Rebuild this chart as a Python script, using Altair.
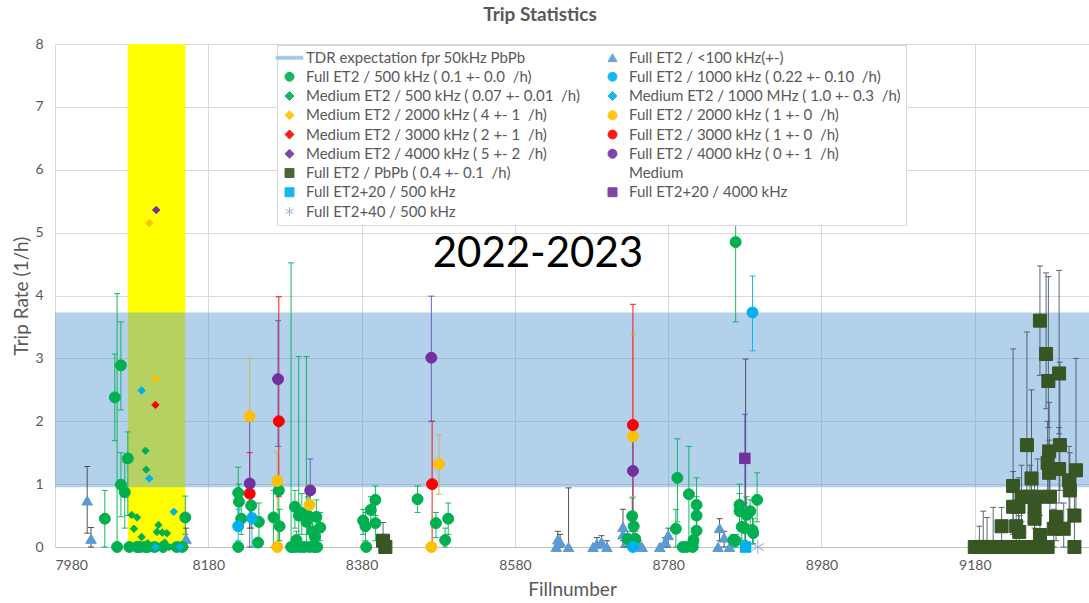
import altair as alt
import pandas as pd

# ---------------- data ----------------
# (fill number, trip rate, error low, error high)
FULL_500 = [
    (8045, 0.45, 0.0, 0.90), (8058, 2.38, 1.69, 3.07), (8061, 0.00, 0.0, 4.03),
    (8066, 2.89, 2.18, 3.58), (8066, 0.99, 0.48, 1.50), (8071, 0.87, 0.30, 1.35),
    (8075, 1.41, 0.50, 1.83), (8077, 0, 0, 0), (8087, 0, 0, 0), (8091, 0, 0, 0),
    (8098, 0, 0, 0), (8101, 0, 0, 0), (8110, 0, 0, 0), (8121, 0, 0, 0),
    (8139, 0, 0, 0), (8146, 0, 0, 0), (8150, 0.47, 0.20, 0.81),
    (8219, 0.86, 0.45, 1.27), (8220, 0.72, 0.30, 1.00), (8223, 0.45, 0.20, 0.75),
    (8219, 0, 0, 0), (8236, 0.66, 0.30, 0.95), (8246, 0.40, 0.10, 0.70),
    (8245, 0.07, 0, 0.10), (8265, 0.47, 0, 0.90), (8272, 0.90, 0, 1.00),
    (8273, 0.33, 0.10, 0.60), (8288, 0, 0, 4.52), (8293, 0.64, 0.30, 0.90),
    (8295, 0.11, 0, 0.25), (8298, 0.50, 0, 3.03), (8302, 0.54, 0.20, 0.85),
    (8308, 0.40, 0, 3.03), (8310, 0.50, 0.20, 0.80), (8316, 0.25, 0.05, 0.45),
    (8319, 0.16, 0, 0.30), (8321, 0.48, 0.25, 0.75), (8326, 0.31, 0.10, 0.55),
    (8290, 0, 0, 0), (8294, 0, 0, 0), (8300, 0, 0, 0), (8305, 0, 0, 0),
    (8312, 0, 0, 0), (8318, 0, 0, 0), (8322, 0, 0, 0),
    (8382, 0.42, 0.20, 0.60), (8385, 0.33, 0.10, 0.55), (8386, 0, 0, 0),
    (8392, 0.59, 0.35, 0.80), (8398, 0.75, 0.50, 0.97), (8398, 0.38, 0.10, 0.70),
    (8453, 0.76, 0.55, 0.97), (8477, 0.38, 0.15, 0.55), (8489, 0.11, 0, 0.30),
    (8493, 0.45, 0.20, 0.70),
    (8727, 0.13, 0, 0.25), (8733, 0.49, 0.25, 0.78), (8735, 0.33, 0.10, 0.55),
    (8737, 0.13, 0, 0.25),
    (8790, 0.29, 0, 0.60), (8792, 1.10, 0.40, 1.72), (8799, 0, 0, 0),
    (8804, 0, 0, 0), (8812, 0, 0, 0), (8807, 0.84, 0, 1.60), (8813, 0.11, 0, 0.30),
    (8817, 0.67, 0.30, 1.10), (8817, 0.50, 0.20, 0.80), (8817, 0.26, 0.05, 0.50),
    (8865, 0.11, 0, 0.20), (8868, 0.10, 0, 0.20), (8868, 4.85, 3.58, 6.20),
    (8873, 0.67, 0.35, 1.00), (8873, 0.57, 0.30, 0.85), (8876, 0.32, 0.10, 0.60),
    (8880, 0.30, 0.10, 0.50), (8882, 0.51, 0.25, 0.80), (8887, 0.57, 0.20, 0.75),
    (8890, 0.27, 0.05, 0.55), (8891, 0.22, 0.05, 0.45), (8896, 0.75, 0.40, 1.18),
]
MED_500 = [(8080, 0.51), (8083, 0.29), (8087, 0.47), (8090, 0), (8093, 0.16),
           (8094, 0), (8098, 1.53), (8099, 1.23), (8101, 0.06), (8104, 0),
           (8113, 0.24), (8115, 0.35), (8120, 0.23), (8123, 0.07), (8126, 0.22),
           (8129, 0), (8134, 0)]
MED_1000 = [(8093, 2.49), (8103, 1.09), (8111, 0), (8135, 0.56), (8143, 0)]
MED_2000 = [(8103, 5.15), (8111, 2.67)]
MED_3000 = [(8111, 2.26)]
MED_4000 = [(8112, 5.36)]
FULL_1000 = [(8219, 0.33, 0.10, 0.60), (8237, 0.46, 0, 0.80), (8734, 0, 0, 0),
             (8890, 3.73, 3.12, 4.31)]
FULL_2000 = [(8234, 2.08, 1.00, 3.00), (8270, 1.05, 0, 1.51), (8270, 0, 0, 0),
             (8312, 0.67, 0.30, 1.00), (8471, 0, 0, 0), (8481, 1.32, 0.84, 1.78),
             (8734, 1.76, 0.80, 3.38)]
FULL_3000 = [(8234, 0.85, 0.30, 1.50), (8272, 2.00, 0.80, 3.98),
             (8472, 1.00, 0, 2.00), (8734, 1.94, 0, 3.86)]
FULL_4000 = [(8234, 1.01, 0, 2.00), (8271, 2.67, 1.60, 3.60), (8313, 0.90, 0.30, 1.40),
             (8471, 3.01, 2.00, 3.99), (8734, 1.21, 0.50, 2.00)]
LT_100 = [(8022, 0.74, 0.22, 1.28), (8027, 0.13, 0, 0.31), (8151, 0.13, 0, 0.30),
          (8634, 0, 0, 0), (8636, 0.12, 0, 0.25), (8639, 0.08, 0, 0.20), (8650, 0, 0, 0.94),
          (8682, 0, 0, 0), (8687, 0.05, 0, 0.15), (8693, 0.08, 0, 0.18), (8700, 0, 0, 0.10),
          (8721, 0.32, 0.10, 0.60), (8721, 0.20, 0, 0.30), (8726, 0.10, 0, 0.20),
          (8742, 0.05, 0, 0.10), (8746, 0, 0, 0),
          (8769, 0, 0, 0), (8776, 0.08, 0, 0.15), (8780, 0.19, 0, 0.30),
          (8845, 0, 0, 0), (8847, 0.30, 0.10, 0.45), (8853, 0.15, 0, 0.25),
          (8860, 0, 0, 0), (8881, 0, 0, 2.99)]
PBPB = [(8408, 0.10, 0, 0.39), (8411, 0.0, 0, 0),
        (9265, 3.60, 2.73, 4.47), (9273, 3.07, 2.20, 4.36), (9276, 2.64, 1.90, 4.30),
        (9290, 2.76, 1.80, 4.40), (9248, 1.62, 0.80, 3.42), (9291, 1.62, 0.90, 2.94),
        (9277, 1.52, 0.90, 2.30), (9275, 1.34, 0.80, 2.00), (9290, 1.24, 0.70, 1.90),
        (9312, 1.22, 0.60, 3.00), (9277, 1.18, 0.70, 1.70), (9254, 1.09, 0.50, 2.50),
        (9303, 1.06, 0.60, 1.60), (9230, 0.97, 0.40, 3.15), (9304, 0.90, 0.40, 1.50),
        (9241, 0.80, 0.40, 1.30), (9252, 0.80, 0.40, 1.30), (9262, 0.80, 0.40, 1.40),
        (9278, 0.80, 0.30, 1.30), (9230, 0.64, 0.20, 1.20), (9258, 0.64, 0.30, 1.00),
        (9237, 0.64, 0.20, 1.10), (9286, 0.48, 0.10, 0.90), (9310, 0.50, 0.10, 0.90),
        (9258, 0.45, 0.10, 0.80), (9215, 0.33, 0.05, 0.63), (9234, 0.33, 0.05, 0.70),
        (9283, 0.29, 0, 0.60), (9296, 0.29, 0, 0.70), (9265, 0.19, 0, 0.50),
        (9238, 0.24, 0, 0.50),
        (9180, 0, 0, 0), (9186, 0, 0, 0.33), (9191, 0, 0, 0.57), (9196, 0, 0, 0.47),
        (9204, 0, 0, 0.63), (9212, 0, 0, 0), (9220, 0, 0, 0), (9228, 0, 0, 0),
        (9236, 0, 0, 0), (9244, 0, 0, 0), (9252, 0, 0, 0), (9260, 0, 0, 0),
        (9268, 0, 0, 0), (9275, 0, 0, 0), (9310, 0, 0, 0)]
SQ20_500 = [(8881, 0)]
SQ20_4000 = [(8880, 1.41, 0.70, 2.11)]
AST40_500 = [(8897, 0)]

TDR_BAND = (0.95, 3.73)          # expectation band (1/h)
YELLOW_FILLS = (8075, 8150)      # highlighted fill range
X_DOMAIN = (7980, 9329)
X_TICKS = [7980, 8180, 8380, 8580, 8780, 8980, 9180]
ANNOT = [(8610, 4.66, "2022-2023")]

# ---------------- legend / series definitions ----------------
NB = "\u00a0 "   # keeps the wide gap before "/h)"
S_TDR = "TDR expectation fpr 50kHz PbPb"
S_LT100 = "Full ET2 / <100 kHz(+-)"
S_F500 = "Full ET2 / 500 kHz ( 0.1 +- 0.0" + NB + "/h)"
S_F1000 = "Full ET2 / 1000 kHz ( 0.22 +- 0.10" + NB + "/h)"
S_M500 = "Medium ET2 / 500 kHz ( 0.07 +- 0.01" + NB + "/h)"
S_M1000 = "Medium ET2 / 1000 MHz ( 1.0 +- 0.3" + NB + "/h)"
S_M2000 = "Medium ET2 / 2000 kHz ( 4 +- 1" + NB + "/h)"
S_F2000 = "Full ET2 / 2000 kHz ( 1 +- 0" + NB + "/h)"
S_M3000 = "Medium ET2 / 3000 kHz ( 2 +- 1" + NB + "/h)"
S_F3000 = "Full ET2 / 3000 kHz ( 1 +- 0" + NB + "/h)"
S_M4000 = "Medium ET2 / 4000 kHz ( 5 +- 2" + NB + "/h)"
S_F4000 = "Full ET2 / 4000 kHz ( 0 +- 1" + NB + "/h)"
S_PBPB = "Full ET2 / PbPb ( 0.4 +- 0.1" + NB + "/h)"
S_MED = "Medium"
S_S20_500 = "Full ET2+20 / 500 kHz"
S_S20_4000 = "Full ET2+20 / 4000 kHz"
S_A40 = "Full ET2+40 / 500 kHz"

ASTERISK = "M0,-1V1M-0.87,-0.5L0.87,0.5M-0.87,0.5L0.87,-0.5"
BANDSYM = "M-3,-0.32H3V0.32H-3Z"

# name, colour, shape  (column-major: left column first, then right column)
LEGEND = [
    (S_TDR, "#9DC3E6", BANDSYM),
    (S_F500, "#00B050", "circle"),
    (S_M500, "#00B050", "diamond"),
    (S_M2000, "#FFC000", "diamond"),
    (S_M3000, "#FF0000", "diamond"),
    (S_M4000, "#7030A0", "diamond"),
    (S_PBPB, "#375623", "square"),
    (S_S20_500, "#00B0F0", "square"),
    (S_A40, "#8EA9DB", ASTERISK),
    (S_LT100, "#5B9BD5", "triangle-up"),
    (S_F1000, "#00B0F0", "circle"),
    (S_M1000, "#00B0F0", "diamond"),
    (S_F2000, "#FFC000", "circle"),
    (S_F3000, "#FF0000", "circle"),
    (S_F4000, "#7030A0", "circle"),
    (S_MED, "transparent", "circle"),
    (S_S20_4000, "#7030A0", "square"),
]
DOM = [n for n, _, _ in LEGEND]
COLS = [c for _, c, _ in LEGEND]
SHAPES = [s for _, _, s in LEGEND]

# series -> (data, marker size, error-bar colour)
SERIES = [
    (S_PBPB, PBPB, 170, "#4A5868"),
    (S_LT100, LT_100, 110, "#404040"),
    (S_F500, FULL_500, 120, "#00B050"),
    (S_M500, MED_500, 55, None),
    (S_M1000, MED_1000, 55, None),
    (S_M2000, MED_2000, 55, None),
    (S_M3000, MED_3000, 55, None),
    (S_M4000, MED_4000, 55, None),
    (S_F1000, FULL_1000, 120, "#00B0F0"),
    (S_F2000, FULL_2000, 120, "#C8B04A"),
    (S_F3000, FULL_3000, 120, "#FF0000"),
    (S_F4000, FULL_4000, 120, "#5E4FC0"),
    (S_S20_500, SQ20_500, 110, None),
    (S_S20_4000, SQ20_4000, 110, "#5E4FC0"),
    (S_A40, AST40_500, 200, None),
]

rows = []
k = 0
for name, data, sz, ecol in SERIES:
    for d in data:
        f, r = d[0], d[1]
        lo = d[2] if len(d) > 2 else r
        hi = d[3] if len(d) > 3 else r
        rows.append(dict(series=name, fill=f, rate=r, lo=lo, hi=hi, sz=sz,
                         ecolor=ecol or "#000000", ord=k))
        k += 1
df = pd.DataFrame(rows)
df_err = df[df["hi"] > df["lo"]]

bands = pd.DataFrame([
    dict(x0=YELLOW_FILLS[0], x1=YELLOW_FILLS[1], y0=0, y1=8, c="#FFFF00", o=1.0),
    dict(x0=X_DOMAIN[0], x1=X_DOMAIN[1], y0=TDR_BAND[0], y1=TDR_BAND[1], c="#5B9BD5", o=0.46),
])
annot = pd.DataFrame([dict(fill=a, rate=b, t=c) for a, b, c in ANNOT])

# ---------------- chart ----------------
FONT = "Lato"
GREY = "#595959"
XT = "Fillnumber"
YT = "Trip Rate (1/h)"

xscale = alt.Scale(domain=list(X_DOMAIN), nice=False, zero=False)
yscale = alt.Scale(domain=[0, 8], nice=False)
xaxis = alt.Axis(values=X_TICKS, format="d", grid=True, ticks=False, labelPadding=11,
                 domainColor="#BFBFBF", titlePadding=8)
yaxis = alt.Axis(values=list(range(9)), format="d", grid=True, ticks=False, domain=False,
                 labelPadding=12, titlePadding=3)

legend = alt.Legend(title=None, orient="none", legendX=222, legendY=1, columns=2,
                    columnPadding=25, rowPadding=3.25, padding=5, fillColor="white",
                    strokeColor="#D9D9D9", labelFont=FONT, labelFontSize=15,
                    labelColor=GREY, labelLimit=600, labelOffset=9, symbolSize=80,
                    symbolStrokeWidth=1)

band_layer = alt.Chart(bands).mark_rect().encode(
    x=alt.X("x0:Q", scale=xscale, axis=xaxis, title=XT),
    x2="x1:Q",
    y=alt.Y("y0:Q", scale=yscale, axis=yaxis, title=YT),
    y2="y1:Q",
    color=alt.Color("c:N", scale=None),
    opacity=alt.Opacity("o:Q", scale=None),
)

rules = alt.Chart(df_err).mark_rule(strokeWidth=1, opacity=0.9).encode(
    x=alt.X("fill:Q", scale=xscale, title=XT),
    y=alt.Y("lo:Q", scale=yscale, title=YT),
    y2="hi:Q",
    color=alt.Color("ecolor:N", scale=None),
)
caps_hi = alt.Chart(df_err).mark_tick(orient="horizontal", size=6, thickness=1, opacity=0.9).encode(
    x=alt.X("fill:Q", scale=xscale, title=XT),
    y=alt.Y("hi:Q", scale=yscale, title=YT),
    color=alt.Color("ecolor:N", scale=None),
)
caps_lo = alt.Chart(df_err).mark_tick(orient="horizontal", size=6, thickness=1, opacity=0.9).encode(
    x=alt.X("fill:Q", scale=xscale, title=XT),
    y=alt.Y("lo:Q", scale=yscale, title=YT),
    color=alt.Color("ecolor:N", scale=None),
)

points = alt.Chart(df).mark_point(filled=True, opacity=1, strokeWidth=1).encode(
    x=alt.X("fill:Q", scale=xscale, title=XT),
    y=alt.Y("rate:Q", scale=yscale, title=YT),
    color=alt.Color("series:N", scale=alt.Scale(domain=DOM, range=COLS), legend=legend),
    stroke=alt.Stroke("series:N", scale=alt.Scale(domain=DOM, range=COLS), legend=legend),
    shape=alt.Shape("series:N", scale=alt.Scale(domain=DOM, range=SHAPES), legend=legend),
    size=alt.Size("sz:Q", scale=None),
    order=alt.Order("ord:Q"),
)

text = alt.Chart(annot).mark_text(font=FONT, fontSize=42, color="black", baseline="middle",
                                  align="center").encode(
    x=alt.X("fill:Q", scale=xscale, title=XT),
    y=alt.Y("rate:Q", scale=yscale, title=YT),
    text="t:N",
)

chart = alt.layer(band_layer, rules, caps_hi, caps_lo, points, text).properties(
    width=1034, height=503,
    background="white",
    autosize=alt.AutoSizeParams(type="none"),
    padding={"left": 55, "top": 44, "right": 0, "bottom": 56},
    title=alt.TitleParams("Trip Statistics", font=FONT, fontSize=19, fontWeight="bold",
                          color=GREY, anchor="middle", frame="group", dx=-32, offset=12),
).configure_view(stroke="transparent").configure_axis(
    labelFont=FONT, labelFontSize=14, labelColor=GREY, gridColor="#D9D9D9",
    titleFont=FONT, titleFontSize=19, titleFontWeight="normal", titleColor=GREY,
)

chart.save("out.html", embed_options={"renderer": "svg", "actions": False})
